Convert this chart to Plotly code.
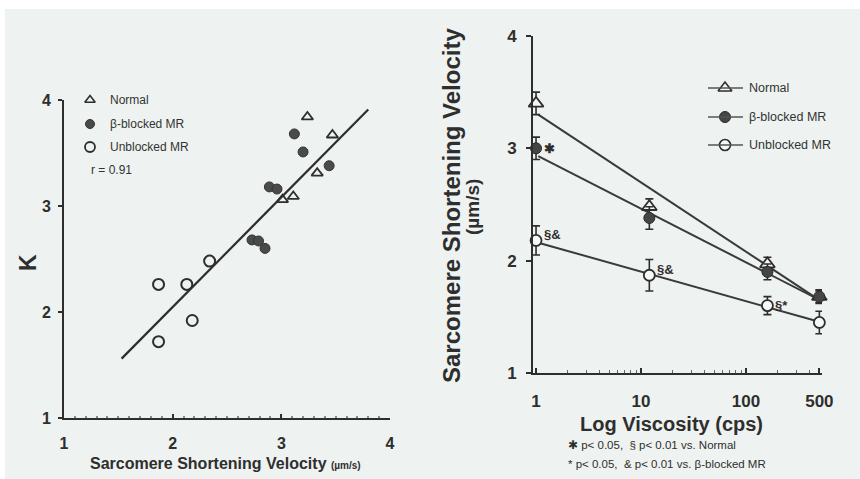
import math
import plotly.graph_objects as go

W, H = 860, 479
BG = "#eef3f1"
INK = "#2e2e2e"
FONT = "Liberation Sans, Arial, sans-serif"

# ---------------- Left panel: K vs sarcomere shortening velocity ----------------
normal_v = [3.24, 3.47, 3.33, 3.11, 3.01]
normal_k = [3.84, 3.67, 3.31, 3.09, 3.06]
blocked_v = [3.12, 3.20, 3.44, 2.89, 2.96, 2.73, 2.79, 2.85]
blocked_k = [3.68, 3.51, 3.38, 3.18, 3.16, 2.68, 2.67, 2.60]
unblocked_v = [1.87, 2.13, 2.34, 2.18, 1.87]
unblocked_k = [2.26, 2.26, 2.48, 1.92, 1.72]
fit_v = [1.53, 3.80]
fit_k = [1.56, 3.91]
r_text = "r = 0.91"
left_ticks = [1, 2, 3, 4]

# ---------------- Right panel: shortening velocity vs viscosity ----------------
viscosity = [1, 12, 160, 500]
normal_ssv = [3.40, 2.48, 1.97, 1.68]
normal_err = [0.10, 0.07, 0.06, 0.05]
blocked_ssv = [3.00, 2.38, 1.90, 1.68]
blocked_err = [0.10, 0.10, 0.07, 0.06]
unblocked_ssv = [2.18, 1.87, 1.60, 1.45]
unblocked_err = [0.13, 0.14, 0.08, 0.10]
line_visc = [1.05, 480]
normal_line = [3.30, 1.66]
blocked_line = [2.93, 1.66]
unblocked_line = [2.16, 1.46]
right_xticks = [1, 10, 100, 500]
right_xminor = [2, 3, 4, 5, 6, 7, 8, 9, 20, 30, 40, 50, 60, 70, 80, 90, 200, 300, 400]
right_yticks = [1, 2, 3, 4]
# significance marks: (series, point index, text)
sig_marks = [("blocked", 0, "✱"), ("unblocked", 0, "§&"),
             ("unblocked", 1, "§&"), ("unblocked", 2, "§*")]
footnotes = ["✱ p< 0.05,  § p< 0.01 vs. Normal",
             "* p< 0.05,  & p< 0.01 vs. β-blocked MR"]

names = ["Normal", "β-blocked MR", "Unblocked MR"]


def fx(x):
    return x / W


def fy(y):
    return 1 - y / H


fig = go.Figure()

# ---- left panel traces ----
fig.add_trace(go.Scatter(x=fit_v, y=fit_k, mode="lines",
                         line=dict(color=INK, width=2.2), xaxis="x", yaxis="y"))
fig.add_trace(go.Scatter(x=unblocked_v, y=unblocked_k, mode="markers",
                         marker=dict(symbol="circle", size=11, color=BG,
                                     line=dict(color=INK, width=2)), xaxis="x", yaxis="y"))
fig.add_trace(go.Scatter(x=blocked_v, y=blocked_k, mode="markers",
                         marker=dict(symbol="circle", size=10, color="#4a4a4a",
                                     line=dict(color="#333", width=1)), xaxis="x", yaxis="y"))
fig.add_trace(go.Scatter(x=normal_v, y=normal_k, mode="markers",
                         marker=dict(symbol="triangle-up-open", size=10,
                                     color=INK, line=dict(width=1.8)), xaxis="x", yaxis="y"))

# ---- right panel traces ----
for ln in [normal_line, blocked_line, unblocked_line]:
    fig.add_trace(go.Scatter(x=line_visc, y=ln, mode="lines", cliponaxis=False,
                             line=dict(color="#3a3a3a", width=2), xaxis="x2", yaxis="y2"))

err_style = dict(type="data", thickness=1.6, width=4, color=INK)
fig.add_trace(go.Scatter(x=viscosity, y=normal_ssv, mode="markers", cliponaxis=False,
                         error_y=dict(array=normal_err, **err_style),
                         marker=dict(symbol="triangle-up", size=13, color="#f4f6f5",
                                     line=dict(color=INK, width=1.8)), xaxis="x2", yaxis="y2"))
fig.add_trace(go.Scatter(x=viscosity, y=blocked_ssv, mode="markers", cliponaxis=False,
                         error_y=dict(array=blocked_err, **err_style),
                         marker=dict(symbol="circle", size=11, color="#454545",
                                     line=dict(color="#2a2a2a", width=1)), xaxis="x2", yaxis="y2"))
fig.add_trace(go.Scatter(x=viscosity, y=unblocked_ssv, mode="markers", cliponaxis=False,
                         error_y=dict(array=unblocked_err, **err_style),
                         marker=dict(symbol="circle", size=11, color="#f7f8f8",
                                     line=dict(color=INK, width=1.8)), xaxis="x2", yaxis="y2"))

series = {"normal": normal_ssv, "blocked": blocked_ssv, "unblocked": unblocked_ssv}
annotations = []
for s, i, t in sig_marks:
    annotations.append(dict(x=math.log10(viscosity[i]), y=series[s][i], xref="x2", yref="y2",
                            text=t, showarrow=False, xanchor="left", yanchor="middle",
                            xshift=6, yshift=6 if (s == "unblocked" and i < 2) else 0,
                            font=dict(family=FONT, size=13, color=INK, weight="bold")))

# ---- legend glyphs (pixel overlay) ----
left_leg_rows = [100, 124, 147]
right_leg_rows = [88, 117, 145]
leg_syms = [dict(symbol="triangle-up-open", size=9, color=INK, line=dict(width=1.6)),
            dict(symbol="circle", size=9, color="#4a4a4a", line=dict(color="#333", width=1)),
            dict(symbol="circle", size=10, color=BG, line=dict(color=INK, width=1.8))]
right_syms = [dict(symbol="triangle-up", size=12, color="#f4f6f5", line=dict(color=INK, width=1.6)),
              dict(symbol="circle", size=11, color="#454545", line=dict(color="#2a2a2a", width=1)),
              dict(symbol="circle", size=11, color="#f7f8f8", line=dict(color=INK, width=1.6))]
for k in range(3):
    fig.add_trace(go.Scatter(x=[90], y=[left_leg_rows[k]], mode="markers", marker=leg_syms[k],
                             xaxis="x3", yaxis="y3"))
    fig.add_trace(go.Scatter(x=[725], y=[right_leg_rows[k]], mode="markers", marker=right_syms[k],
                             xaxis="x3", yaxis="y3"))
    annotations.append(dict(x=fx(108), y=fy(left_leg_rows[k]), xref="paper", yref="paper",
                            text=names[k], showarrow=False, xanchor="left", yanchor="middle",
                            font=dict(family=FONT, size=12, color="#333")))
    annotations.append(dict(x=fx(747), y=fy(right_leg_rows[k]), xref="paper", yref="paper",
                            text=names[k], showarrow=False, xanchor="left", yanchor="middle",
                            font=dict(family=FONT, size=12.5, color="#333")))

annotations.append(dict(x=fx(89), y=fy(170), xref="paper", yref="paper", text=r_text,
                        showarrow=False, xanchor="left", yanchor="middle",
                        font=dict(family=FONT, size=12, color="#333")))

# axis titles & footnotes
title_specs = [
    (28, 263, "K", -90, 23, "bold", "center"),
    (225, 463, "Sarcomere Shortening Velocity <span style='font-size:10px'>(µm/s)</span>",
     0, 16, "bold", "center"),
    (451, 205, "Sarcomere Shortening Velocity", -90, 24, "bold", "center"),
    (472, 207, "(µm/s)", -90, 19, "bold", "center"),
    (671, 424, "Log Viscosity (cps)", 0, 20, "bold", "center"),
    (566, 445, footnotes[0], 0, 11.5, "normal", "left"),
    (566, 464, footnotes[1], 0, 11.5, "normal", "left"),
]
for x, y, t, ang, sz, wt, xa in title_specs:
    annotations.append(dict(x=fx(x), y=fy(y), xref="paper", yref="paper", text=t,
                            textangle=ang, showarrow=False, xanchor=xa, yanchor="middle",
                            font=dict(family=FONT, size=sz, color=INK, weight=wt)))

shapes = [dict(type="rect", xref="paper", yref="paper", x0=0, x1=1, y0=fy(9), y1=1,
               fillcolor="white", line=dict(width=0), layer="below"),
          dict(type="rect", xref="paper", yref="paper", x0=0, x1=fx(5), y0=0, y1=1,
               fillcolor="white", line=dict(width=0), layer="below")]
for k in range(3):
    shapes.append(dict(type="line", xref="paper", yref="paper", x0=fx(708), x1=fx(743),
                       y0=fy(right_leg_rows[k]), y1=fy(right_leg_rows[k]),
                       line=dict(color="#555", width=1.5)))

tickfont_l = dict(family=FONT, size=16, color=INK, weight="bold")
tickfont_r = dict(family=FONT, size=17, color=INK, weight="bold")

fig.update_layout(
    width=W, height=H, margin=dict(l=0, r=0, t=0, b=0),
    paper_bgcolor=BG, plot_bgcolor="rgba(0,0,0,0)", showlegend=False,
    annotations=annotations, shapes=shapes,
    xaxis=dict(domain=[fx(64), fx(390)], range=[1, 4], anchor="y",
               tickvals=left_ticks, ticks="inside", ticklen=4, tickwidth=1.5, tickcolor=INK,
               showline=True, linecolor=INK, linewidth=2, showgrid=False, zeroline=False,
               tickfont=tickfont_l, ticklabelstandoff=10, automargin=False,
               minor=dict(ticks="inside", ticklen=2, dtick=0.1, tickcolor="#888", showgrid=False)),
    yaxis=dict(domain=[fy(418), fy(100)], range=[1, 4], anchor="x",
               tickvals=left_ticks, ticks="outside", ticklen=4, tickwidth=1.5, tickcolor=INK,
               showline=True, linecolor=INK, linewidth=2, showgrid=False, zeroline=False,
               tickfont=tickfont_l, ticklabelstandoff=4, automargin=False),
    xaxis2=dict(domain=[fx(533), fx(822)], type="log", range=[-0.029, 2.724], anchor="y2",
                tickvals=right_xticks, ticktext=[str(v) for v in right_xticks],
                ticks="inside", ticklen=5, tickwidth=1.5, tickcolor=INK,
                showline=True, linecolor=INK, linewidth=2, showgrid=False, zeroline=False,
                tickfont=tickfont_r, ticklabelstandoff=12, automargin=False,
                minor=dict(tickmode="array", tickvals=right_xminor, ticks="inside",
                           ticklen=3, tickwidth=1, tickcolor="#666", showgrid=False)),
    yaxis2=dict(domain=[fy(373), fy(36)], range=[1, 4], anchor="x2",
                tickvals=right_yticks, ticks="outside", ticklen=5, tickwidth=1.5, tickcolor=INK,
                showline=True, linecolor=INK, linewidth=2, showgrid=False, zeroline=False,
                tickfont=tickfont_r, ticklabelstandoff=6, automargin=False),
    xaxis3=dict(domain=[0, 1], range=[0, W], visible=False, anchor="y3", fixedrange=True),
    yaxis3=dict(domain=[0, 1], range=[H, 0], visible=False, anchor="x3", fixedrange=True),
)

fig.write_html("out.html")
